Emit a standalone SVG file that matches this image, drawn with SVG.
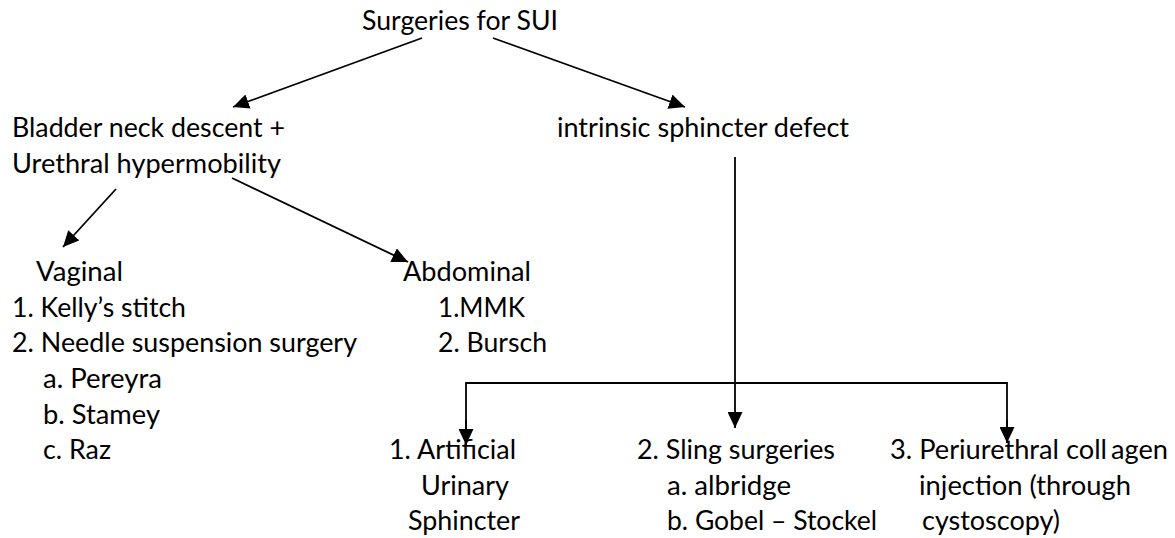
<svg xmlns="http://www.w3.org/2000/svg" width="1175" height="538" viewBox="0 0 1175 538">
<style>
text { font-family: Lato, "Open Sans", "Liberation Sans", sans-serif; font-size: 26px; fill: #000; }
.conn { stroke: #000; stroke-width: 1.8; fill: none; }
</style>
<defs>
<marker id="arr" markerUnits="userSpaceOnUse" markerWidth="17" markerHeight="15" refX="16" refY="7.5" orient="auto" viewBox="0 0 17 15">
<path d="M0,0 L16,7.5 L0,15 z" fill="#000"/>
</marker>
</defs>
<rect width="1175" height="538" fill="#fff"/>
<g id="connectors">
<line class="conn" x1="422" y1="38" x2="233" y2="107" marker-end="url(#arr)"/>
<line class="conn" x1="493" y1="38" x2="685" y2="107" marker-end="url(#arr)"/>
<line class="conn" x1="116" y1="189" x2="63" y2="247" marker-end="url(#arr)"/>
<line class="conn" x1="232" y1="178" x2="408" y2="262" marker-end="url(#arr)"/>
<line class="conn" x1="735" y1="157" x2="735" y2="428" marker-end="url(#arr)"/>
<polyline class="conn" points="466,445 466,383 1007,383 1007,443"/>
<line class="conn" x1="466" y1="420" x2="466" y2="445" marker-end="url(#arr)"/>
<line class="conn" x1="1007" y1="420" x2="1007" y2="443" marker-end="url(#arr)"/>
</g>
<g id="root"><text x="362" y="30" textLength="196" lengthAdjust="spacingAndGlyphs">Surgeries for SUI</text></g>
<g id="bladder">
<text x="12" y="137" textLength="273" lengthAdjust="spacingAndGlyphs">Bladder neck descent +</text>
<text x="12" y="173" textLength="269" lengthAdjust="spacingAndGlyphs">Urethral hypermobility</text>
</g>
<g id="isd"><text x="557" y="137" textLength="292" lengthAdjust="spacingAndGlyphs">intrinsic sphincter defect</text></g>
<g id="vaginal">
<text x="36" y="281" textLength="87" lengthAdjust="spacingAndGlyphs">Vaginal</text>
<text x="12" y="317" textLength="174" lengthAdjust="spacingAndGlyphs">1. Kelly’s stitch</text>
<text x="12" y="352" textLength="345" lengthAdjust="spacingAndGlyphs">2. Needle suspension surgery</text>
<text x="43" y="388" textLength="119" lengthAdjust="spacingAndGlyphs">a. Pereyra</text>
<text x="43" y="424" textLength="117" lengthAdjust="spacingAndGlyphs">b. Stamey</text>
<text x="43" y="459" textLength="68" lengthAdjust="spacingAndGlyphs">c. Raz</text>
</g>
<g id="abdominal">
<text x="403" y="281" textLength="128" lengthAdjust="spacingAndGlyphs">Abdominal</text>
<text x="438" y="317" textLength="87" lengthAdjust="spacingAndGlyphs">1.MMK</text>
<text x="438" y="352" textLength="109" lengthAdjust="spacingAndGlyphs">2. Bursch</text>
</g>
<g id="aus">
<text x="389" y="459" textLength="127" lengthAdjust="spacingAndGlyphs">1. Artificial</text>
<text x="421" y="495" textLength="88" lengthAdjust="spacingAndGlyphs">Urinary</text>
<text x="408" y="530" textLength="112" lengthAdjust="spacingAndGlyphs">Sphincter</text>
</g>
<g id="sling">
<text x="637" y="459" textLength="198" lengthAdjust="spacingAndGlyphs">2. Sling surgeries</text>
<text x="667" y="495" textLength="124" lengthAdjust="spacingAndGlyphs">a. albridge</text>
<text x="667" y="530" textLength="210" lengthAdjust="spacingAndGlyphs">b. Gobel – Stockel</text>
</g>
<g id="collagen">
<text x="890" y="459"><tspan textLength="217" lengthAdjust="spacingAndGlyphs">3. Periurethral coll</tspan><tspan x="1111" textLength="57" lengthAdjust="spacingAndGlyphs">agen</tspan></text>
<text x="919" y="495" textLength="212" lengthAdjust="spacingAndGlyphs">injection (through</text>
<text x="922" y="530" textLength="138" lengthAdjust="spacingAndGlyphs">cystoscopy)</text>
</g>
</svg>
